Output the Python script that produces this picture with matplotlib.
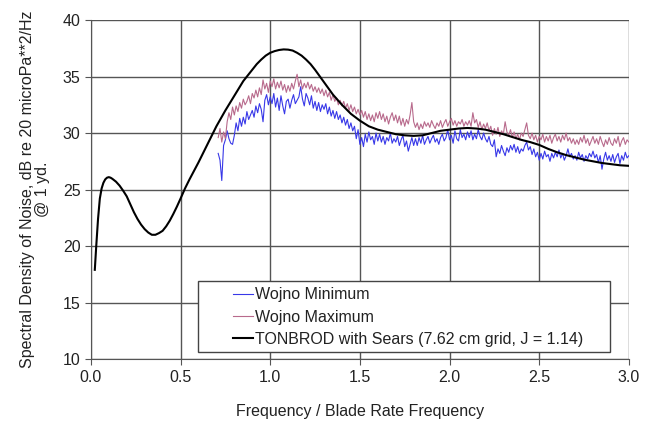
import numpy as np
import matplotlib
matplotlib.use('Agg')
from matplotlib import pyplot as plt
from matplotlib.patches import Rectangle

plt.rcParams['font.family'] = ['Liberation Sans', 'DejaVu Sans']

# TONBROD with Sears prediction
tonbrod_f = [0.022, 0.03, 0.04, 0.05, 0.06, 0.07, 0.08, 0.09, 0.10, 0.11, 0.12, 0.14, 0.16,
             0.18, 0.20, 0.22, 0.24, 0.26, 0.28, 0.30, 0.32, 0.34, 0.36, 0.38, 0.40,
             0.42, 0.44, 0.46, 0.48, 0.50, 0.525, 0.55, 0.575, 0.60, 0.65, 0.70, 0.75,
             0.80, 0.85, 0.90, 0.925, 0.95, 0.975, 1.00, 1.025, 1.05, 1.075, 1.10,
             1.125, 1.15, 1.175, 1.20, 1.225, 1.25, 1.275, 1.30, 1.35, 1.40, 1.45,
             1.50, 1.55, 1.60, 1.65, 1.70, 1.75, 1.80, 1.85, 1.90, 1.95, 2.00, 2.05,
             2.10, 2.15, 2.20, 2.25, 2.30, 2.35, 2.40, 2.45, 2.50, 2.55, 2.60, 2.65,
             2.70, 2.75, 2.80, 2.85, 2.90, 2.95, 3.00]
tonbrod_db = [17.9, 20.0, 22.4, 24.2, 25.1, 25.6, 25.9, 26.05, 26.1, 26.05, 25.95, 25.7, 25.35,
              24.9, 24.4, 23.7, 23.0, 22.4, 21.9, 21.5, 21.2, 21.0, 21.0, 21.15, 21.35,
              21.75, 22.25, 22.85, 23.5, 24.2, 25.1, 25.9, 26.65, 27.4, 29.0, 30.6, 32.0,
              33.3, 34.6, 35.6, 36.1, 36.5, 36.85, 37.1, 37.25, 37.35, 37.4, 37.38,
              37.3, 37.1, 36.85, 36.5, 36.1, 35.6, 35.05, 34.5, 33.4, 32.5, 31.7,
              31.1, 30.6, 30.3, 30.1, 29.9, 29.8, 29.75, 29.8, 30.0, 30.2, 30.3, 30.4,
              30.45, 30.4, 30.3, 30.1, 29.9, 29.65, 29.4, 29.2, 28.95, 28.6, 28.3, 28.05,
              27.85, 27.65, 27.5, 27.35, 27.25, 27.15, 27.1]

# Wojno measurements, 0.71 .. 3.00 step 0.01
wojno_f = np.round(np.arange(0.71, 3.0001, 0.01), 2)
wojno_min = [
    28.2, 27.6, 25.8, 28.9, 29.4, 30.2, 29.5, 29.1, 29.0, 29.8,
    30.9, 30.2, 31.3, 30.6, 31.4, 30.8, 31.9, 31.2, 31.6, 32.0,
    31.4, 32.4, 31.8, 32.6, 32.1, 31.0, 32.9, 33.4, 32.5, 33.2,
    32.6, 33.5, 32.3, 33.1, 32.0, 33.3, 32.4, 31.7, 32.8, 33.0,
    32.2, 32.9, 33.4, 32.6, 32.9, 33.2, 34.1, 33.0, 32.4, 33.5,
    33.1, 32.5, 33.3, 32.2, 32.8, 32.0, 32.7, 31.9, 32.5, 32.1,
    32.6, 31.7, 32.3, 31.5, 32.0, 31.3, 31.9, 31.2, 31.6, 30.9,
    31.4, 30.7, 31.2, 30.4, 30.9, 30.2, 30.6, 29.5, 30.3, 29.0,
    29.6, 28.8, 29.9, 29.2, 30.1, 29.4, 29.7, 29.0, 30.0, 29.3,
    29.9, 29.2, 29.7, 29.0, 29.6, 29.3, 30.0, 29.1, 29.5, 29.2,
    29.7, 28.9, 29.4, 29.8, 28.8, 29.3, 28.4, 29.0, 29.6, 28.9,
    29.5, 28.9, 29.6, 29.1, 29.8, 29.0, 29.4, 29.7, 29.1, 29.5,
    29.8, 29.2, 29.5, 29.0, 29.6, 29.9, 29.3, 29.6, 30.3, 29.4,
    29.8, 29.1, 30.2, 29.5, 29.3, 30.3, 29.6, 29.9, 29.4, 30.1,
    29.6, 30.2, 29.4, 29.9, 29.5, 30.3, 29.7, 29.4, 30.0, 29.5,
    29.2, 29.7, 29.0, 28.8, 29.4, 27.9, 28.6, 28.2, 28.9, 28.4,
    28.0, 28.7, 28.3, 28.9, 28.5, 29.0, 28.3, 28.8, 28.2, 28.6,
    28.4, 28.9, 29.2, 28.5, 28.8, 28.1, 28.6, 27.9, 28.3, 27.6,
    28.2, 27.7, 28.4, 27.9, 28.1, 27.5, 28.2, 27.8, 28.3, 27.9,
    28.5, 27.8, 28.2, 27.6, 28.0, 28.6, 27.9, 28.2, 27.7, 28.0,
    27.6, 28.3, 27.8, 28.1, 27.5, 28.0, 27.7, 28.2, 27.9, 28.4,
    27.8, 28.1, 27.4, 28.0, 26.8, 27.7, 28.3, 27.6, 28.0, 27.5,
    28.1, 27.4, 27.9, 28.2, 27.3, 28.0, 27.6, 28.3, 27.8, 28.0,
]
wojno_max = [
    29.6, 30.4, 29.2, 30.1, 29.5, 31.0, 31.8, 31.2, 32.3, 31.6,
    32.4, 31.9, 32.7, 32.2, 33.0, 32.5, 32.8, 33.3, 32.6, 33.5,
    33.1, 33.8, 33.2, 34.0, 33.4, 34.7, 33.9, 34.4, 33.6, 34.6,
    34.1, 34.8, 33.9, 34.5, 34.0, 34.6, 33.8, 34.3, 33.6, 34.2,
    33.7, 34.4, 33.9, 34.6, 35.2, 34.1, 34.7, 33.9, 34.4, 34.0,
    34.5, 33.9, 34.3, 33.7, 34.1, 33.6, 34.0, 33.5, 33.9, 33.3,
    33.8, 33.2, 33.6, 32.9, 33.4, 32.8, 33.1, 32.5, 32.9, 32.4,
    32.8, 32.2, 32.6, 32.0, 32.5, 31.9, 32.3, 31.7, 32.1, 31.6,
    32.0, 31.4, 31.9, 31.2, 31.7, 31.1, 31.6, 31.0, 31.8, 31.3,
    31.9, 31.2, 31.7, 31.0, 31.5, 30.8, 31.4, 31.8, 31.1, 31.6,
    30.9, 31.5, 30.7, 31.3, 30.6, 31.2, 30.8, 31.6, 32.7, 31.0,
    30.5, 30.9, 30.3, 30.8, 30.4, 31.0, 30.6, 30.9, 30.5, 31.1,
    30.7, 30.4, 30.9, 30.6, 31.1, 30.5, 30.9, 31.2, 30.6, 31.0,
    31.3, 30.7, 31.1, 30.6, 31.0, 30.8, 31.2, 30.6, 31.0, 30.7,
    31.1, 30.6, 31.8, 30.9, 31.2, 30.5, 31.0, 30.3, 30.8, 30.4,
    30.9, 30.2, 30.6, 29.8, 30.4, 29.9, 30.5, 29.7, 30.2, 29.9,
    31.0, 30.1, 29.8, 30.3, 29.6, 30.1, 29.5, 29.9, 29.4, 30.0,
    29.7, 30.3, 30.9, 29.8, 29.5, 30.0, 29.4, 29.8, 29.2, 29.7,
    29.4, 29.9, 29.2, 29.7, 29.3, 29.8, 29.1, 29.6, 29.9, 29.3,
    29.7, 29.2, 29.8, 29.4, 30.0, 29.3, 29.6, 29.1, 29.5, 29.0,
    29.4, 29.0, 29.6, 29.2, 29.8, 29.1, 29.5, 28.9, 29.3, 29.7,
    29.1, 29.5, 29.0, 29.7, 29.2, 28.8, 29.4, 29.0, 29.6, 29.1,
    28.9, 29.5, 29.1, 29.7, 28.8, 29.3, 29.6, 29.0, 29.4, 29.2,
]

x_ticks = [0.0, 0.5, 1.0, 1.5, 2.0, 2.5, 3.0]
y_ticks = [10, 15, 20, 25, 30, 35, 40]

fs = 11.5
fig = plt.figure(figsize=(6.49, 4.26), dpi=100)
ax = fig.add_axes([0.140, 0.157, 0.829, 0.796])

ax.plot(wojno_f, wojno_min, color='#3838e8', lw=0.8, label='Wojno Minimum')
ax.plot(wojno_f, wojno_max, color='#b86a8c', lw=0.8, label='Wojno Maximum')
ax.plot(tonbrod_f, tonbrod_db, color='black', lw=1.5,
        label='TONBROD with Sears (7.62 cm grid, J = 1.14)')

ax.set_xlim(0, 3.0)
ax.set_ylim(10, 40)
ax.set_xticks(x_ticks)
ax.set_xticklabels([f'{v:.1f}' for v in x_ticks])
ax.set_yticks(y_ticks)
ax.grid(True, color='#555555', lw=1.0)
ax.set_axisbelow(True)
for side in ('top', 'right'):
    ax.spines[side].set_visible(False)
for side in ('left', 'bottom'):
    ax.spines[side].set_color('#555555')
ax.tick_params(direction='out', length=4, color='#555555', labelsize=fs,
               labelcolor='#222222')

ax.set_xlabel('Frequency / Blade Rate Frequency', fontsize=fs, labelpad=14,
              color='#222222')
ax.set_ylabel('Spectral Density of Noise, dB re 20 microPa**2/Hz\n@ 1 yd.',
              fontsize=fs, labelpad=9, linespacing=1.0, color='#222222')

# legend box with wide left margin, as in the original
ax.add_patch(Rectangle((0.2, 0.02), 0.765, 0.21, transform=ax.transAxes,
                       facecolor='white', edgecolor='#444444', lw=1.0, zorder=4))
leg = ax.legend(loc='lower left', bbox_to_anchor=(0.255, 0.022), frameon=False,
                fontsize=fs, handlelength=1.25, handletextpad=0.12,
                labelspacing=0.45, borderpad=0.3, borderaxespad=0)
for t in leg.get_texts():
    t.set_color('#222222')

fig.savefig('out.png', dpi=100)
